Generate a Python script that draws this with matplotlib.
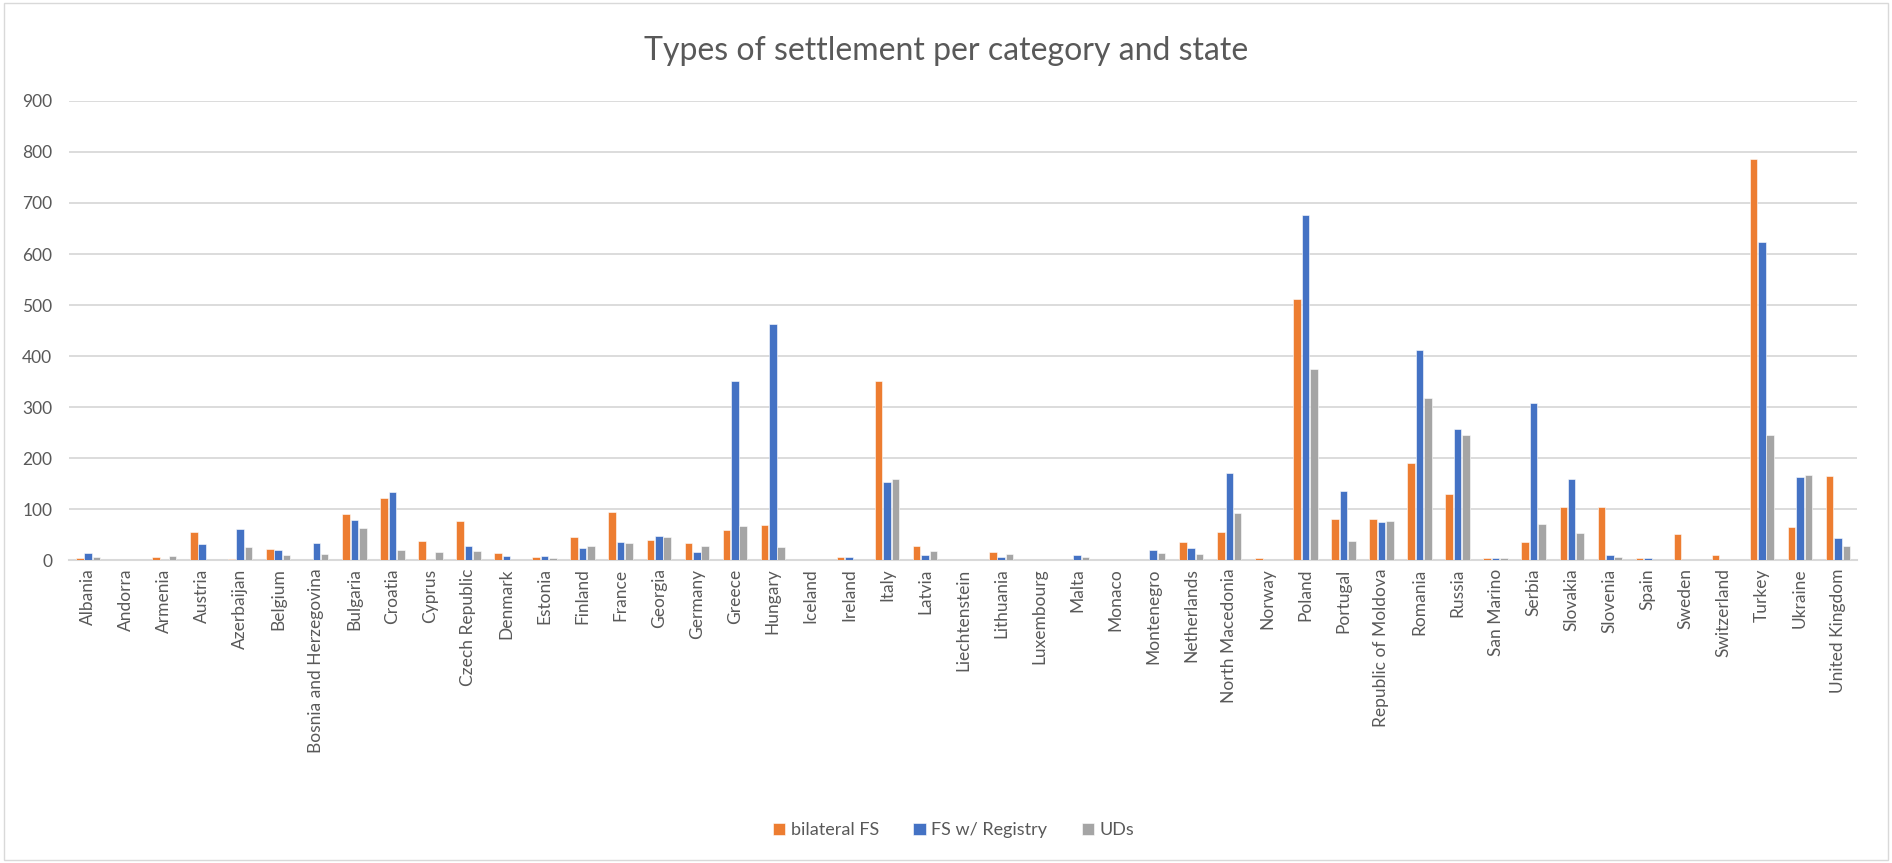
import numpy as np
import matplotlib
matplotlib.use("Agg")
import matplotlib.pyplot as plt
from matplotlib.patches import Rectangle

plt.rcParams['font.family'] = ['Lato', 'DejaVu Sans']

paises = ["Albania", "Andorra", "Armenia", "Austria", "Azerbaijan", "Belgium",
          "Bosnia and Herzegovina", "Bulgaria", "Croatia", "Cyprus", "Czech Republic",
          "Denmark", "Estonia", "Finland", "France", "Georgia", "Germany", "Greece",
          "Hungary", "Iceland", "Ireland", "Italy", "Latvia", "Liechtenstein",
          "Lithuania", "Luxembourg", "Malta", "Monaco", "Montenegro", "Netherlands",
          "North Macedonia", "Norway", "Poland", "Portugal", "Republic of Moldova",
          "Romania", "Russia", "San Marino", "Serbia", "Slovakia", "Slovenia", "Spain",
          "Sweden", "Switzerland", "Turkey", "Ukraine", "United Kingdom"]

bilateral_fs = [5, 0, 6, 55, 2, 21, 0, 90, 122, 37, 76,
                13, 6, 45, 95, 39, 33, 59, 69, 0, 6, 351, 27, 0,
                16, 0, 0, 0, 0, 36, 56, 4, 512, 80, 80,
                190, 130, 4, 35, 105, 105, 5, 52, 9, 786, 65, 165]

fs_registry = [13, 0, 0, 31, 61, 19, 33, 78, 133, 0, 27,
               8, 8, 24, 36, 48, 16, 351, 463, 0, 6, 153, 10, 0,
               6, 0, 9, 0, 20, 24, 171, 0, 676, 135, 75,
               412, 257, 5, 307, 158, 10, 5, 0, 0, 624, 163, 43]

uds = [6, 0, 8, 0, 25, 10, 11, 63, 19, 16, 18,
       0, 4, 27, 33, 46, 27, 67, 26, 0, 0, 159, 18, 0,
       11, 0, 7, 0, 13, 12, 93, 0, 375, 37, 76,
       318, 246, 5, 71, 53, 7, 0, 0, 0, 245, 167, 27]

series = [("bilateral FS", bilateral_fs, "#ED7D31"),
          ("FS w/ Registry", fs_registry, "#4472C4"),
          ("UDs", uds, "#A5A5A5")]

texto = "#595959"
rejilla = "#D9D9D9"

fig = plt.figure(figsize=(18.92, 8.63), dpi=100)
ax = fig.add_axes([0.0365, 0.351, 0.945, 0.532])

x = np.arange(len(paises))
ancho = 0.2
for i, (nombre, valores, color) in enumerate(series):
    ax.bar(x + (i - 1) * (ancho + 0.02), valores, ancho, color=color, label=nombre,
           edgecolor="white", linewidth=0.4, zorder=3)

ax.set_xlim(-0.5, len(paises) - 0.5)
ax.set_ylim(0, 900)
ax.set_yticks(np.arange(0, 901, 100))
ax.yaxis.grid(True, color=rejilla, linewidth=1.3, zorder=0)
ax.set_axisbelow(True)
for lado in ["top", "right", "left"]:
    ax.spines[lado].set_visible(False)
ax.spines["bottom"].set_color(rejilla)
ax.spines["bottom"].set_linewidth(1.5)
ax.tick_params(axis="both", length=0, colors=texto, labelsize=12.5)
ax.tick_params(axis="y", pad=12)
ax.tick_params(axis="x", pad=6)
ax.set_xticks(x)
ax.set_xticklabels(paises, rotation=90)

fig.suptitle("Types of settlement per category and state", y=0.958,
             fontsize=23, color=texto)

fig.legend(loc="center", bbox_to_anchor=(0.504, 0.038), ncol=3, frameon=False,
           fontsize=13, labelcolor=texto, handlelength=0.7, handleheight=0.7,
           handletextpad=0.3, columnspacing=1.9)

fig.patches.append(Rectangle((0.002, 0.003), 0.996, 0.994, transform=fig.transFigure,
                             fill=False, edgecolor=rejilla, linewidth=1))

fig.savefig("out.png", dpi=100)
